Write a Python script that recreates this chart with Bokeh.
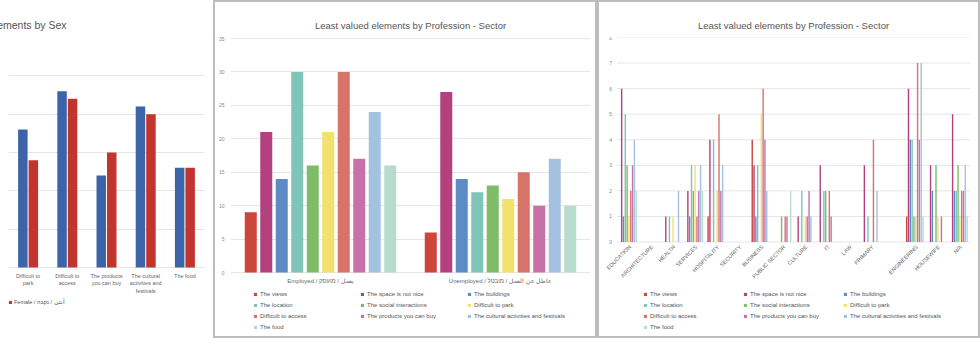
import math
from bokeh.plotting import figure
from bokeh.models import (FactorRange, Range1d, Legend, LegendItem,
                          ColumnDataSource, FixedTicker, LabelSet)
from bokeh.core.properties import value
from bokeh.transform import dodge
from bokeh.layouts import row
from bokeh.embed import file_html
from bokeh.resources import INLINE

FONT = "Liberation Sans"
GRID = "#e6e6e6"
TEXT = "#666666"
PANEL_BORDER = {"box-shadow": "inset 0 0 0 2px #bdbdbd"}

# ---------------- left panel: Least valued elements by Sex (visible part)
sex_categories = ["Difficult to park", "Difficult to access", "The products you can buy",
                  "The cultural activities and festivals", "The food"]
sex_tick_labels = ["Difficult to\npark", "Difficult to\naccess", "The products\nyou can buy",
                   "The cultural\nactivities and\nfestivals", "The food"]
male_values = [18, 23, 12, 21, 13]
female_values = [14, 22, 15, 20, 13]
sex_names = ["Male / ذكر / זכר", "Female / أنثى / נקבה"]
sex_colors = ["#3d64a8", "#c2352f"]
sex_ticks = [0, 5, 10, 15, 20, 25, 30]

# ---------------- middle panel: by Profession - Sector (employment status)
elements = ["The views", "The space is not nice", "The buildings", "The location",
            "The social interactions", "Difficult to park", "Difficult to access",
            "The products you can buy", "The cultural activities and festivals", "The food"]
element_colors = ["#cc463b", "#b3417f", "#5d8cc5", "#7ec4b9", "#7fbc67",
                  "#f1e16e", "#d8736a", "#c771a8", "#a4c1e0", "#b7dccd"]
status_groups = ["Employed / يعمل / מועסק", "Unemployed / عاطل عن العمل / מובטל"]
employed_values = [9, 21, 14, 30, 16, 21, 30, 17, 24, 16]
unemployed_values = [6, 27, 14, 12, 13, 11, 15, 10, 17, 10]
status_ticks = [0, 5, 10, 15, 20, 25, 30, 35]

# ---------------- right panel: by Profession - Sector (sectors)
sectors = ["EDUCATION", "ARCHITECTURE", "HEALTH", "SERVICES", "HOSPITALITY", "SECURITY",
           "BUSINESS", "PUBLIC SECTOR", "CULTURE", "IT", "LAW", "PRIMARY", " ",
           "ENGINEERING", "HOUSEWIFE", "N/A"]
views_by_sector     = [0, 0, 0, 0, 1, 0, 4, 0, 0, 0, 0, 0, 0, 1, 0, 0]
space_by_sector     = [6, 0, 1, 2, 4, 0, 3, 0, 1, 3, 0, 3, 0, 6, 3, 5]
buildings_by_sector = [1, 0, 0, 1, 0, 0, 1, 0, 0, 0, 0, 0, 0, 4, 2, 2]
location_by_sector  = [5, 0, 1, 3, 4, 0, 3, 0, 2, 2, 0, 1, 0, 4, 0, 2]
social_by_sector    = [3, 0, 0, 2, 0, 0, 0, 1, 0, 2, 0, 0, 0, 1, 3, 3]
park_by_sector      = [1, 0, 1, 3, 2, 0, 5, 0, 1, 0, 0, 0, 0, 1, 1, 1]
access_by_sector    = [2, 0, 0, 1, 5, 0, 6, 1, 1, 2, 0, 4, 0, 7, 0, 2]
products_by_sector  = [3, 0, 0, 2, 2, 0, 4, 1, 2, 1, 0, 0, 0, 4, 1, 2]
cultural_by_sector  = [4, 0, 2, 3, 3, 0, 2, 0, 1, 0, 0, 2, 0, 7, 0, 3]
food_by_sector      = [2, 0, 0, 2, 0, 0, 0, 2, 0, 0, 0, 0, 0, 1, 0, 1]
sector_ticks = [0, 1, 2, 3, 4, 5, 6, 7, 8]

panel_title = "Least valued elements by Profession - Sector"


def base_style(p, ticks):
    p.xgrid.grid_line_color = None
    p.ygrid.grid_line_color = GRID
    p.ygrid.ticker = FixedTicker(ticks=ticks)
    p.yaxis.ticker = FixedTicker(ticks=ticks)
    p.outline_line_color = None
    p.background_fill_alpha = 0
    p.border_fill_alpha = 0
    p.xaxis.visible = False
    for ax in p.yaxis:
        ax.axis_line_color = None
        ax.major_tick_line_color = None
        ax.minor_tick_line_color = None
        ax.major_tick_out = 0
        ax.major_tick_in = 0
        ax.major_label_text_font = FONT
        ax.major_label_text_color = "#888888"
        ax.major_label_text_font_size = "5px"
    p.title.text_font = FONT
    p.title.text_font_style = "normal"
    p.title.text_color = "#555555"
    p.title.standoff = 13


def make_legend(items, loc, label_width):
    return Legend(items=items, orientation="horizontal", ncols=3, location=loc,
                  label_text_font=FONT, label_text_font_size="6px",
                  label_text_color="#555555", glyph_width=4, glyph_height=4,
                  label_height=11, label_width=label_width, label_standoff=3,
                  spacing=0, padding=0, margin=0, border_line_color=None,
                  background_fill_alpha=0)


COMMON = dict(height=338, output_backend="svg", toolbar_location=None,
              min_border_top=37, min_border_bottom=0)

# ---------------- left figure
p1 = figure(width=213, x_range=FactorRange(*sex_categories, range_padding=0),
            y_range=Range1d(-9.26, 30), min_border_left=8, min_border_right=9,
            title="Least valued elements by Sex", **COMMON)
base_style(p1, sex_ticks)
p1.yaxis.visible = False
p1.title.align = "left"
p1.title.offset = -82
p1.title.text_font_size = "10.5px"
src1 = ColumnDataSource(dict(cat=sex_categories, male=male_values, female=female_values,
                             lab=sex_tick_labels, base=[0] * len(sex_categories)))
r_m = p1.vbar(x=dodge("cat", -0.134, range=p1.x_range), top="male", width=0.242,
              source=src1, fill_color=sex_colors[0], line_color=None)
r_f = p1.vbar(x=dodge("cat", 0.134, range=p1.x_range), top="female", width=0.242,
              source=src1, fill_color=sex_colors[1], line_color=None)
p1.text(x="cat", y="base", text="lab", source=src1, y_offset=5,
        text_align="center", text_baseline="top", text_font_size="5.5px",
        text_color=TEXT, text_font=value(FONT), text_line_height=1.25)
leg1 = Legend(items=[LegendItem(label=sex_names[1], renderers=[r_f])],
              orientation="horizontal", location=(0, 32),
              label_text_font=FONT, label_text_font_size="5.5px", label_text_color="#555555",
              glyph_width=4, glyph_height=4, label_height=8,
              label_standoff=2, spacing=0, padding=0, margin=0,
              border_line_color=None, background_fill_alpha=0)
p1.add_layout(leg1, "center")

# ---------------- middle figure
p2 = figure(width=384, x_range=FactorRange(*status_groups, range_padding=0),
            y_range=Range1d(-9.87, 35.15), min_border_left=17, min_border_right=7,
            title=panel_title, **COMMON)
base_style(p2, status_ticks)
p2.yaxis.major_label_standoff = 6
p2.title.align = "center"
p2.title.text_font_size = "9.5px"
p2.styles = PANEL_BORDER
items2 = []
for i, name in enumerate(elements):
    src = ColumnDataSource(dict(grp=status_groups, v=[employed_values[i], unemployed_values[i]]))
    r = p2.vbar(x=dodge("grp", (i - 4.5) * 0.0861, range=p2.x_range), top="v", width=0.0667,
                source=src, fill_color=element_colors[i], line_color=None)
    items2.append(LegendItem(label=name, renderers=[r]))
p2.text(x=status_groups, y=[0, 0], text=status_groups, y_offset=5,
        text_align="center", text_baseline="top", text_font_size="6px",
        text_color=TEXT, text_font=value(FONT))
p2.add_layout(make_legend(items2, (23, 5.5), 100), "center")

# ---------------- right figure
sector_series = [views_by_sector, space_by_sector, buildings_by_sector, location_by_sector,
                 social_by_sector, park_by_sector, access_by_sector, products_by_sector,
                 cultural_by_sector, food_by_sector]
p3 = figure(width=383, x_range=FactorRange(*sectors, range_padding=0.0595),
            y_range=Range1d(-3.775, 8), min_border_left=9, min_border_right=0,
            title=panel_title, **COMMON)
base_style(p3, sector_ticks)
p3.yaxis.visible = False
p3.ygrid.grid_line_color = None
p3.title.align = "center"
p3.title.text_font_size = "9.5px"
p3.styles = PANEL_BORDER

# grid lines and value labels of the sector panel, spanning the category band
grid_src = ColumnDataSource(dict(y=sector_ticks, lab=[str(t) for t in sector_ticks],
                                 first=[sectors[0]] * len(sector_ticks),
                                 last=[sectors[-1]] * len(sector_ticks)))
p3.segment(x0=dodge("first", -0.5, range=p3.x_range), x1=dodge("last", 0.5, range=p3.x_range),
           y0="y", y1="y", source=grid_src, line_color=GRID, line_width=1)
p3.add_layout(LabelSet(x="first", y="y", text="lab", source=grid_src, x_offset=-17.5,
                       text_align="center", text_baseline="middle",
                       text_font_size="5px", text_color="#888888", text_font=value(FONT)))

items3 = []
for i, name in enumerate(elements):
    src = ColumnDataSource(dict(sec=sectors, v=sector_series[i]))
    r = p3.vbar(x=dodge("sec", (i - 4.5) * 0.0823, range=p3.x_range), top="v", width=0.064,
                source=src, fill_color=element_colors[i], line_color=None)
    items3.append(LegendItem(label=name, renderers=[r]))
sector_label_src = ColumnDataSource(dict(sec=sectors, base=[0] * len(sectors)))
p3.add_layout(LabelSet(x="sec", y="base", text="sec", source=sector_label_src,
                       x_offset=2, y_offset=-4, angle=math.pi / 4,
                       text_align="right", text_baseline="middle",
                       text_font_size="5.5px", text_color=TEXT, text_font=value(FONT)))
p3.add_layout(make_legend(items3, (37, 5.5), 93), "center")

layout = row(p1, p2, p3)
open("out.html", "w").write(file_html(layout, INLINE))
